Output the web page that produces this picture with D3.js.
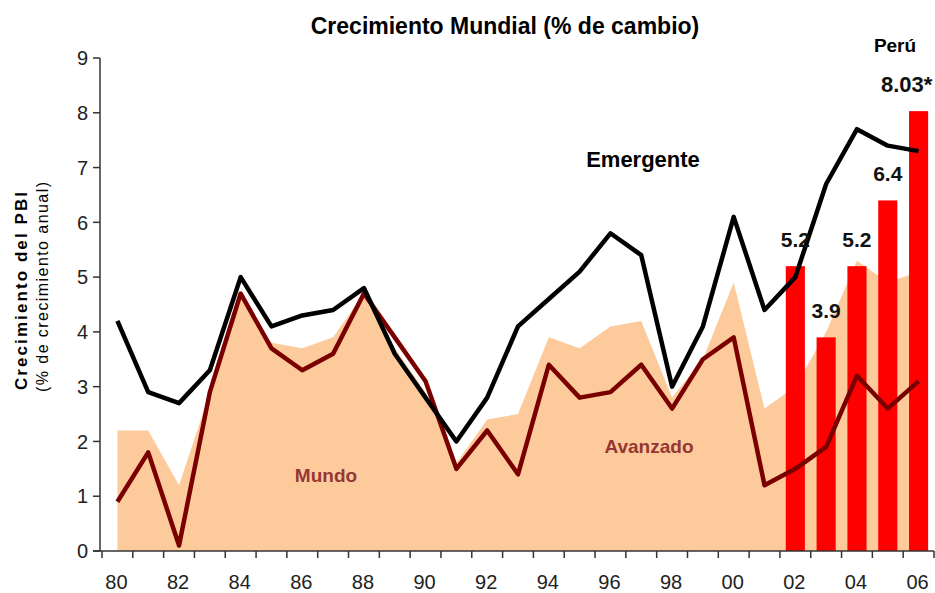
<!DOCTYPE html>
<html><head><meta charset="utf-8">
<script src="https://cdn.jsdelivr.net/npm/d3@7"></script>
<style>body{margin:0;background:#fff}svg{display:block}</style>
</head><body>
<svg id="c" width="935" height="593"></svg>
<script>
const years = d3.range(1980, 2007);
const xTickLabels = ["80","82","84","86","88","90","92","94","96","98","00","02","04","06"];
const yTicks = [0,1,2,3,4,5,6,7,8,9];
const mundo = [2.2,2.2,1.2,2.9,4.6,3.8,3.7,3.9,4.7,3.7,2.9,1.6,2.4,2.5,3.9,3.7,4.1,4.2,2.8,3.5,4.9,2.6,3.0,4.0,5.3,4.9,5.1];
const avanzado = [0.9,1.8,0.1,2.9,4.7,3.7,3.3,3.6,4.7,3.9,3.1,1.5,2.2,1.4,3.4,2.8,2.9,3.4,2.6,3.5,3.9,1.2,1.5,1.9,3.2,2.6,3.1];
const emergente = [4.2,2.9,2.7,3.3,5.0,4.1,4.3,4.4,4.8,3.6,2.8,2.0,2.8,4.1,4.6,5.1,5.8,5.4,3.0,4.1,6.1,4.4,5.0,6.7,7.7,7.4,7.3];
const peruYears = [2002,2003,2004,2005,2006];
const peru = [5.2,3.9,5.2,6.4,8.03];
const peruLabels = ["5.2","3.9","5.2","6.4","8.03*"];

const svg = d3.select("#c");
const x = d3.scaleBand().domain(years).range([102, 934]).padding(0);
const y = d3.scaleLinear().domain([0, 9]).range([551, 58]);
const cx = yr => x(yr) + x.bandwidth() / 2;
const SANS = "Liberation Sans, Arial, sans-serif";
const NARROW = "Liberation Sans Narrow, Arial Narrow, sans-serif";

// area Mundo
svg.append("path")
  .datum(years.map((yr, i) => [yr, mundo[i]]))
  .attr("fill", "#FDCB9B")
  .attr("d", d3.area().x(d => cx(d[0])).y0(y(0)).y1(d => y(d[1])));

// Peru bars
const bw = x.bandwidth() * 0.62;
svg.selectAll("rect.peru").data(peruYears).join("rect")
  .attr("x", d => cx(d) - bw / 2)
  .attr("width", bw)
  .attr("y", (d, i) => y(peru[i]))
  .attr("height", (d, i) => y(0) - y(peru[i]))
  .attr("fill", "#FF0000");

// lines
const line = d3.line().x(d => cx(d[0])).y(d => y(d[1]));
svg.append("path").datum(years.map((yr, i) => [yr, avanzado[i]]))
  .attr("fill", "none").attr("stroke", "#7A0000").attr("stroke-width", 4.5)
  .attr("stroke-linejoin", "round").attr("d", line);
svg.append("path").datum(years.map((yr, i) => [yr, emergente[i]]))
  .attr("fill", "none").attr("stroke", "#000").attr("stroke-width", 4.5)
  .attr("stroke-linejoin", "round").attr("d", line);

// axes
const axisColor = "#333";
svg.append("line").attr("x1", 100).attr("x2", 100).attr("y1", y(9)).attr("y2", y(0)).attr("stroke", axisColor).attr("stroke-width", 1.5);
svg.append("line").attr("x1", 93).attr("x2", 934).attr("y1", y(0)).attr("y2", y(0)).attr("stroke", axisColor).attr("stroke-width", 1.5);
yTicks.forEach(t => {
  svg.append("line").attr("x1", 93).attr("x2", 100).attr("y1", y(t)).attr("y2", y(t)).attr("stroke", axisColor).attr("stroke-width", 1.5);
  svg.append("text").attr("x", 88).attr("y", y(t)).attr("dy", "0.36em").attr("text-anchor", "end")
    .attr("font-family", SANS).attr("font-size", 20).attr("fill", "#222").text(t);
});
years.forEach(yr => {
  svg.append("line").attr("x1", x(yr)).attr("x2", x(yr)).attr("y1", y(0)).attr("y2", y(0) + 7).attr("stroke", axisColor).attr("stroke-width", 1.5);
});
svg.append("line").attr("x1", 934).attr("x2", 934).attr("y1", y(0)).attr("y2", y(0) + 7).attr("stroke", axisColor).attr("stroke-width", 1.5);
xTickLabels.forEach((lab, i) => {
  svg.append("text").attr("x", cx(1980 + 2 * i) - 1).attr("y", 589).attr("text-anchor", "middle")
    .attr("font-family", SANS).attr("font-size", 20).attr("fill", "#222").text(lab);
});

// y axis title
svg.append("text").attr("transform", "translate(27,291) rotate(-90)").attr("text-anchor", "middle")
  .attr("font-family", SANS).attr("font-size", 17).attr("font-weight", "bold").attr("fill", "#000")
  .attr("textLength", 198).attr("lengthAdjust", "spacing")
  .text("Crecimiento del PBI");
svg.append("text").attr("transform", "translate(48,287) rotate(-90)").attr("text-anchor", "middle")
  .attr("font-family", SANS).attr("font-size", 16).attr("fill", "#000")
  .attr("textLength", 210).attr("lengthAdjust", "spacing")
  .text("(% de crecimiento anual)");

// title
svg.append("text").attr("x", 505).attr("y", 34).attr("text-anchor", "middle")
  .attr("font-family", NARROW).attr("font-size", 23).attr("font-weight", "bold")
  .text("Crecimiento Mundial (% de cambio)");
svg.append("text").attr("x", 895).attr("y", 52).attr("text-anchor", "middle")
  .attr("font-family", NARROW).attr("font-size", 19).attr("font-weight", "bold")
  .text("Perú");

// bar labels
svg.selectAll("text.pl").data(peruYears).join("text")
  .attr("x", (d, i) => i === 4 ? cx(d) - 12 : cx(d))
  .attr("y", (d, i) => y(peru[i]) - 19)
  .attr("text-anchor", "middle")
  .attr("font-family", (d, i) => i === 4 ? NARROW : SANS)
  .attr("font-size", (d, i) => i === 4 ? 22 : 21).attr("font-weight", "bold").attr("fill", "#111")
  .text((d, i) => peruLabels[i]);

// series labels
svg.append("text").attr("x", 643).attr("y", 167).attr("text-anchor", "middle")
  .attr("font-family", SANS).attr("font-size", 22).attr("font-weight", "bold").text("Emergente");
svg.append("text").attr("x", 326).attr("y", 482).attr("text-anchor", "middle")
  .attr("font-family", SANS).attr("font-size", 19).attr("font-weight", "bold").attr("fill", "#953735").text("Mundo");
svg.append("text").attr("x", 649).attr("y", 453).attr("text-anchor", "middle")
  .attr("font-family", SANS).attr("font-size", 19).attr("font-weight", "bold").attr("fill", "#953735").text("Avanzado");
</script>
</body></html>
